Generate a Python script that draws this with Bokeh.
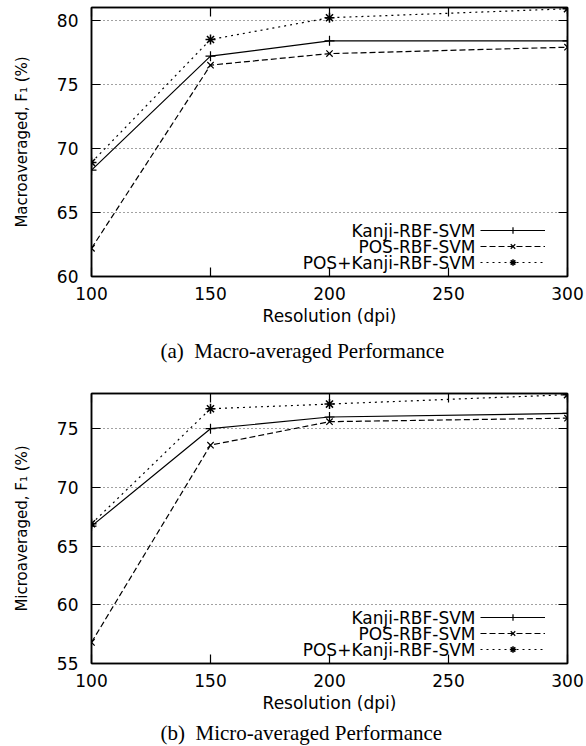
from bokeh.plotting import figure
from bokeh.models import (Range1d, LinearAxis, FixedTicker, Legend, LegendItem, Label)
from bokeh.layouts import column
from bokeh.embed import file_html
from bokeh.resources import INLINE

resolution = [100, 150, 200, 300]
x_ticks = [100, 150, 200, 250, 300]

macro_kanji = [68.3, 77.2, 78.4, 78.4]
macro_pos = [62.2, 76.5, 77.4, 77.9]
macro_both = [68.9, 78.5, 80.2, 80.9]
macro_ticks = [60, 65, 70, 75, 80]

micro_kanji = [66.7, 75.0, 76.0, 76.3]
micro_pos = [56.8, 73.6, 75.6, 75.9]
micro_both = [66.9, 76.7, 77.1, 77.9]
micro_ticks = [55, 60, 65, 70, 75]

series_names = ["Kanji-RBF-SVM", "POS-RBF-SVM", "POS+Kanji-RBF-SVM"]
captions = ["(a)\u00a0 Macro-averaged Performance", "(b)\u00a0 Micro-averaged Performance"]

SANS = "DejaVu Sans"
SERIF = "Liberation Serif"


def style_axis(ax, ticks, show_labels):
    ax.ticker = FixedTicker(ticks=ticks)
    ax.major_tick_in = 9
    ax.major_tick_out = 0
    ax.minor_tick_in = 0
    ax.minor_tick_out = 0
    ax.axis_line_color = "black"
    ax.axis_line_width = 1.5
    ax.major_tick_line_color = "black"
    ax.major_tick_line_width = 1.2
    ax.major_label_text_font = SANS
    ax.major_label_text_font_size = "17px"
    ax.major_label_text_color = "black"
    ax.axis_label_text_font = SANS
    ax.axis_label_text_font_style = "normal"
    ax.axis_label_text_color = "black"
    if not show_labels:
        ax.major_label_text_font_size = "0px"
        ax.major_label_text_alpha = 0
        ax.major_label_standoff = 0


def make_panel(kanji, pos, both, yticks, y0, y1, ylabel, height, top_border, bottom_border):
    p = figure(width=586, height=height, output_backend="svg", toolbar_location=None,
               x_range=Range1d(100, 300), y_range=Range1d(y0, y1),
               min_border_left=91, min_border_right=19,
               min_border_top=top_border, min_border_bottom=bottom_border,
               x_axis_label="Resolution (dpi)", y_axis_label=ylabel)
    p.outline_line_color = "black"
    p.outline_line_width = 1.5
    p.background_fill_color = "white"
    p.border_fill_color = "white"

    style_axis(p.xaxis[0], x_ticks, True)
    style_axis(p.yaxis[0], yticks, True)
    p.xaxis[0].major_label_standoff = 10
    p.xaxis[0].axis_label_standoff = 3
    p.xaxis[0].axis_label_text_font_size = "17px"
    p.yaxis[0].major_label_standoff = 13
    p.yaxis[0].axis_label_standoff = 23
    p.yaxis[0].axis_label_text_font_size = "15px"

    top = LinearAxis()
    style_axis(top, x_ticks, False)
    p.add_layout(top, "above")
    right = LinearAxis()
    style_axis(right, yticks, False)
    p.add_layout(right, "right")

    p.xgrid.visible = False
    p.ygrid.ticker = FixedTicker(ticks=yticks)
    p.ygrid.grid_line_color = "#444444"
    p.ygrid.grid_line_dash = "1 3"
    p.ygrid.grid_line_width = 1

    l1 = p.line(resolution, kanji, line_color="black", line_width=1.2)
    m1 = p.scatter(resolution, kanji, marker="cross", size=10, line_color="black", line_width=1.2)
    l2 = p.line(resolution, pos, line_color="black", line_width=1.2, line_dash="6 3")
    m2 = p.scatter(resolution, pos, marker="x", size=9, line_color="black", line_width=1.2)
    l3 = p.line(resolution, both, line_color="black", line_width=1.2, line_dash="2 4")
    m3 = p.scatter(resolution, both, marker="asterisk", size=10, line_color="black", line_width=1.5)

    # gnuplot-style key: sample lines on the right, right-aligned titles on the left
    legend = Legend(items=[
        LegendItem(label="", renderers=[l1, m1]),
        LegendItem(label="", renderers=[l2, m2]),
        LegendItem(label="", renderers=[l3, m3]),
    ], location=(389, 6))
    legend.border_line_color = None
    legend.background_fill_alpha = 0
    legend.padding = 0
    legend.margin = 0
    legend.spacing = 0
    legend.glyph_width = 65
    legend.glyph_height = 16
    legend.label_height = 16
    legend.label_width = 0
    legend.label_standoff = 0
    legend.label_text_font_size = "1px"
    p.add_layout(legend, "center")

    for i, name in enumerate(series_names):
        p.add_layout(Label(x=384, y=46 - 16 * i, x_units="screen", y_units="screen",
                           text=name, text_align="right", text_baseline="middle",
                           text_font=SANS, text_font_size="17px", text_color="black"))
    return p


def make_caption(text, height, y):
    c = figure(width=586, height=height, output_backend="svg", toolbar_location=None,
               x_range=Range1d(0, 1), y_range=Range1d(0, 1),
               x_axis_type=None, y_axis_type=None,
               min_border_left=91, min_border_right=19, min_border_top=0, min_border_bottom=0)
    c.outline_line_color = None
    c.background_fill_color = "white"
    c.border_fill_color = "white"
    c.add_layout(Label(x=69, y=y, x_units="screen", y_units="screen",
                       text=text, text_align="left", text_baseline="middle",
                       text_font=SERIF, text_font_size="21px", text_color="black"))
    return c


p1 = make_panel(macro_kanji, macro_pos, macro_both, macro_ticks, 60, 81,
                "Macroaveraged, F\u2081 (%)", 328, 7, 50)
c1 = make_caption(captions[0], 44, 22)
p2 = make_panel(micro_kanji, micro_pos, micro_both, micro_ticks, 55, 78,
                "Microaveraged, F\u2081 (%)", 343, 21, 50)
c2 = make_caption(captions[1], 31, 14)

layout = column(p1, c1, p2, c2, spacing=0)
open("out.html", "w").write(file_html(layout, INLINE))
